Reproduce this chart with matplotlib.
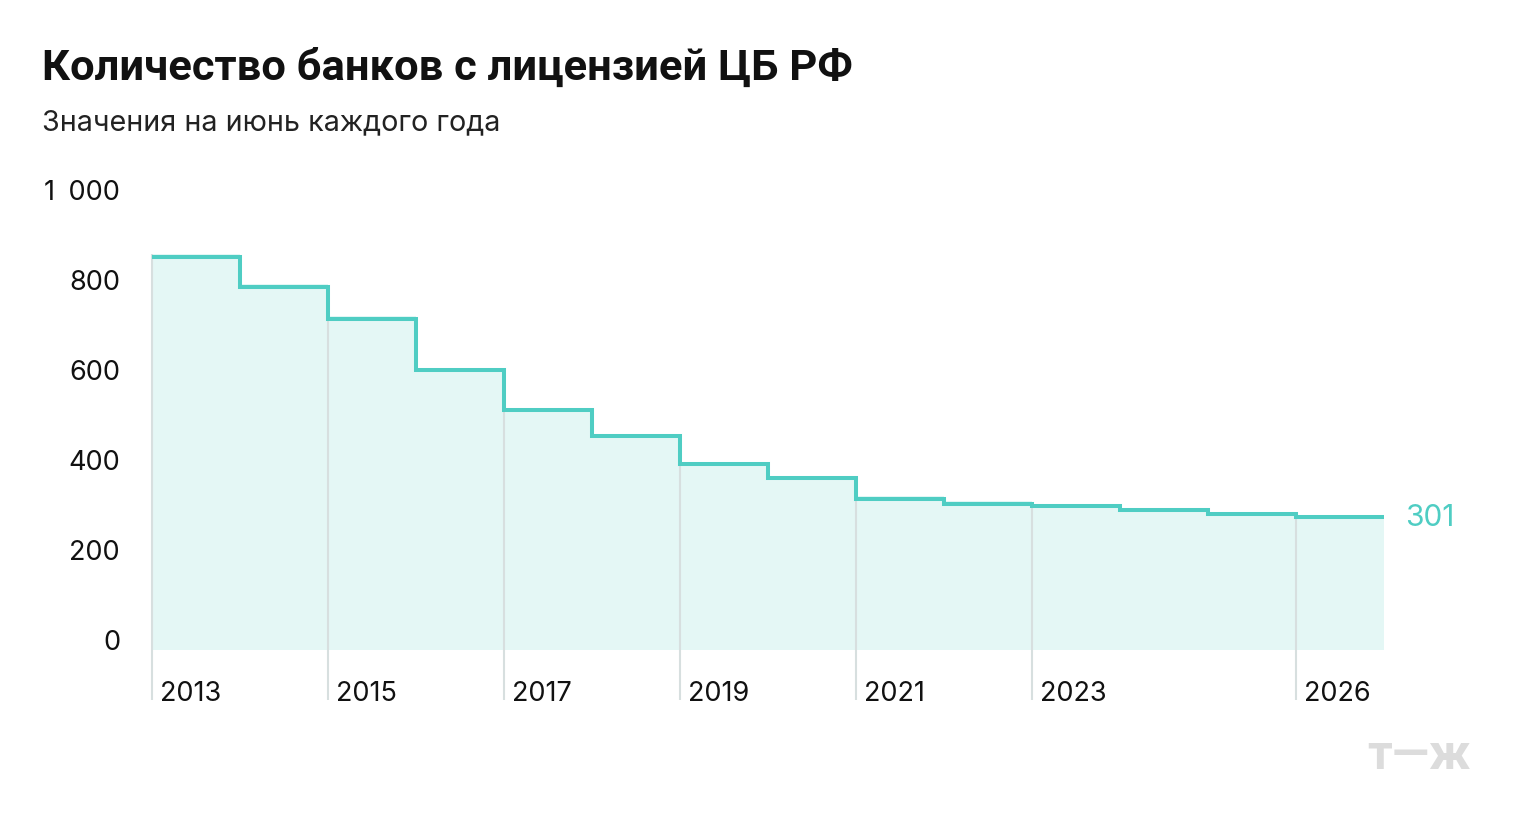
import matplotlib
matplotlib.use("Agg")
import matplotlib.pyplot as plt
from matplotlib.transforms import offset_copy

plt.rcParams['font.family'] = ['Inter', 'DejaVu Sans']

years = [2013, 2014, 2015, 2016, 2017, 2018, 2019, 2020, 2021, 2022, 2023, 2024, 2025, 2026]
banks = [879, 813, 742, 627, 538, 480, 418, 387, 342, 330, 325, 316, 307, 301]
labeled_years = [2013, 2015, 2017, 2019, 2021, 2023, 2026]
yticks = [0, 200, 400, 600, 800, 1000]

title = "Количество банков с лицензией ЦБ РФ"
subtitle = "Значения на июнь каждого года"

TEAL = "#4fcdc3"
FILL = "#e4f7f5"
GRID = "#d7dfdf"

W, H = 1520, 830
fig = plt.figure(figsize=(W / 100, H / 100), dpi=100)
ax = fig.add_axes([152 / W, (H - 650) / H, (1384 - 152) / W, 450 / H])

n = len(years)
xs = list(range(n + 1))
ys = banks + [banks[-1]]
ax.fill_between(xs, 0, ys, step='post', color=FILL, lw=0, zorder=1)

# vertical markers for labeled years
for yr in labeled_years:
    i = years.index(yr)
    ax.plot([i, i], [-111, banks[i]], color=GRID, lw=1.5, clip_on=False, zorder=2,
            solid_capstyle='butt')
    ax.annotate(str(yr), xy=(i, 0), xytext=(5.5, -37), textcoords='offset points',
                ha='left', va='baseline', fontsize=19.5, color='#111111')

line_tr = offset_copy(ax.transData, fig=fig, x=0, y=-2.5, units='dots')
ax.step(xs, ys, where='post', color=TEAL, lw=2.9, zorder=3, solid_joinstyle='miter',
        transform=line_tr)

ax.set_xlim(0, n)
ax.set_ylim(0, 1000)
ax.axis('off')

# y tick labels
for v in yticks:
    lbl = f"{v:,}".replace(",", "\u2002")
    ax.annotate(lbl, xy=(0, v), xytext=(-23, 0), textcoords='offset points',
                ha='right', va='baseline', fontsize=19.5, color='#111111')

# last value label
ax.annotate(str(banks[-1]), xy=(n, banks[-1]), xytext=(15, -2.5), textcoords='offset points',
            ha='left', va='center', fontsize=21.5, color=TEAL)

fig.text(42 / W, 1 - 80 / H, title, fontsize=31.3, fontweight='bold', color='#111111',
         ha='left', va='baseline', family=['Roboto', 'DejaVu Sans'])
fig.text(42 / W, 1 - 130 / H, subtitle, fontsize=20.7, color='#222222',
         ha='left', va='baseline')

fig.text(1419 / W, 1 - 769 / H, "т—ж", fontsize=35, fontweight='bold', color='#dcdcdc',
         ha='center', va='baseline', family=['Roboto', 'DejaVu Sans'])

fig.savefig("out.png", dpi=100, facecolor='white')
